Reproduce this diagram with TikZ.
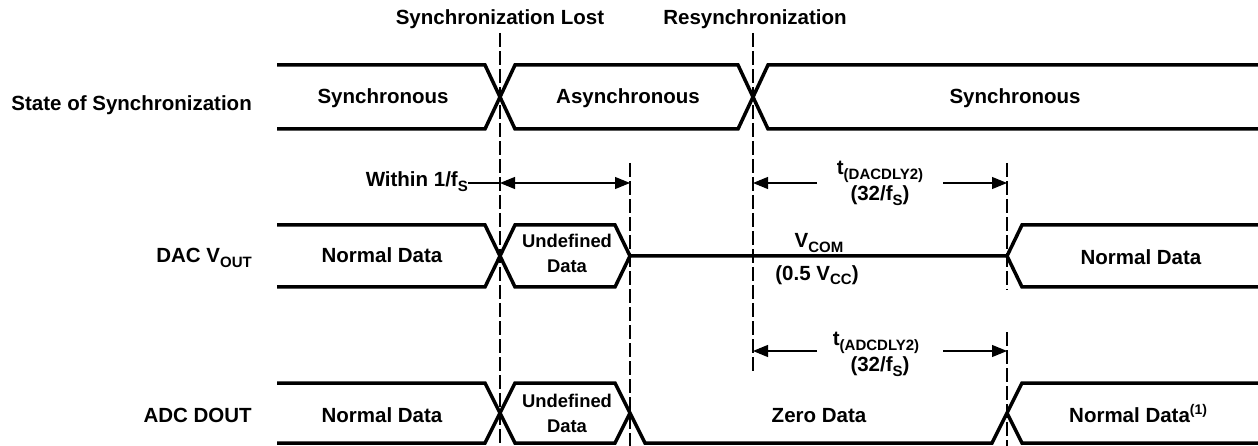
\documentclass[tikz,border=0pt]{standalone}
\usepackage{fontspec}
\setmainfont{Liberation Sans}
\usetikzlibrary{arrows.meta}
\newcommand\lsub[1]{\raisebox{-5pt}{\fontsize{15}{15}\selectfont #1}}
\newcommand\lsup[1]{\raisebox{8pt}{\fontsize{14}{14}\selectfont #1}}
\begin{document}
\begin{tikzpicture}[x=1pt,y=-1pt,
  lbl/.style={font=\fontsize{20.5}{24}\selectfont\bfseries, inner sep=0pt, anchor=base},
  rowlbl/.style={lbl, anchor=base east},
  small/.style={font=\fontsize{18.4}{22}\selectfont\bfseries, inner sep=0pt, anchor=base},
  sig/.style={line width=3.5pt},
  guide/.style={line width=1.1pt, dash pattern=on 14pt off 4pt},
  dimline/.style={line width=1.1pt},
  dimarrow/.style={line width=1.1pt, -{Triangle[length=15pt,width=12pt]}},
  dimboth/.style={line width=1.1pt, {Triangle[length=15pt,width=12pt]}-{Triangle[length=15pt,width=12pt]}},
]
\useasboundingbox (0,0) rectangle (1258,446);

% ---------- titles ----------
\node[lbl] (lost) at (500,25) {Synchronization Lost};
\node[lbl] (resync) at (755,25) {Resynchronization};

% ---------- row labels ----------
\node[rowlbl] (lstate) at (252,111) {State of Synchronization};
\node[rowlbl] (ldac) at (252,263) {DAC V\lsub{OUT}};
\node[rowlbl] (ladc) at (252,422) {ADC DOUT};

% ---------- guide lines ----------
\draw[guide] (500,33) -- (500,446);
\draw[guide] (753,33) -- (753,372);
\draw[guide] (630,163) -- (630,446);
\draw[guide] (1007,163) -- (1007,290);
\draw[guide] (1007,332) -- (1007,446);

% ---------- state of synchronization ----------
\draw[sig] (277,65) -- (485,65) -- (515,129) -- (738,129) -- (768,65) -- (1258,65);
\draw[sig] (277,129) -- (485,129) -- (515,65) -- (738,65) -- (768,129) -- (1258,129);
\node[lbl] (s1) at (383,104) {Synchronous};
\node[lbl] (s2) at (628,104) {Asynchronous};
\node[lbl] (s3) at (1015,104) {Synchronous};

% ---------- DAC ----------
\draw[sig] (277,225) -- (485,225) -- (515,287) -- (615,287) -- (630,256) -- (1007,256) -- (1022,225) -- (1258,225);
\draw[sig] (277,287) -- (485,287) -- (515,225) -- (615,225) -- (630,256);
\draw[sig] (1007,256) -- (1022,287) -- (1258,287);
\node[lbl] (dn1) at (382,263) {Normal Data};
\node[small] (du1) at (567,248) {Undefined};
\node[small] (du2) at (567,273) {Data};
\node[lbl] (vcom) at (819,248) {V\lsub{COM}};
\node[lbl] (vcc) at (817,280) {(0.5 V\lsub{CC})};
\node[lbl] (dn2) at (1141,265) {Normal Data};

% ---------- ADC ----------
\draw[sig] (277,383) -- (485,383) -- (515,443) -- (615,443) -- (630,413);
\draw[sig] (277,443) -- (485,443) -- (515,383) -- (615,383) -- (645,443) -- (992,443) -- (1022,383) -- (1258,383);
\draw[sig] (1007,413) -- (1022,443) -- (1258,443);
\node[lbl] (an1) at (382,422) {Normal Data};
\node[small] (au1) at (567,407) {Undefined};
\node[small] (au2) at (567,432) {Data};
\node[lbl] (zero) at (819,422) {Zero Data};
\node[lbl, anchor=base west] (an2) at (1069,422) {Normal Data\lsup{(1)}};

% ---------- within 1/fs ----------
\node[lbl, anchor=base east] (within) at (468,187) {Within 1/f\lsub{S}};
\coordinate (w1) at (500,183);
\coordinate (w2) at (630,183);
\draw[dimline] (within.east |- w1) -- (w1);
\draw[dimboth] (w1) -- (w2);

% ---------- DAC delay ----------
\coordinate (da) at (753,183);
\coordinate (dg1) at (817,183);
\coordinate (dg2) at (943,183);
\coordinate (db) at (1007,183);
\draw[dimarrow] (dg1) -- (da);
\draw[dimarrow] (dg2) -- (db);
\node[lbl] (tdac) at (880,175) {t\lsub{(DACDLY2)}};
\node[lbl] (tdac2) at (880,201) {(32/f\lsub{S})};

% ---------- ADC delay ----------
\coordinate (aa) at (753,351);
\coordinate (ag1) at (817,351);
\coordinate (ag2) at (943,351);
\coordinate (ab) at (1007,351);
\draw[dimarrow] (ag1) -- (aa);
\draw[dimarrow] (ag2) -- (ab);
\node[lbl] (tadc) at (876,345) {t\lsub{(ADCDLY2)}};
\node[lbl] (tadc2) at (880,371) {(32/f\lsub{S})};
\end{tikzpicture}
\end{document}
